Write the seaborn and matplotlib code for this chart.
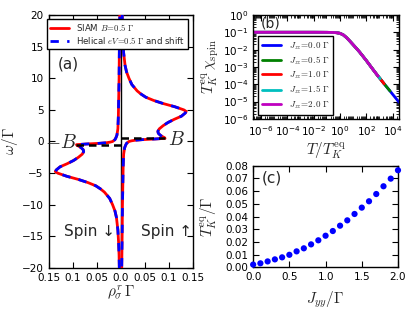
import numpy as np
import pandas as pd
import matplotlib
matplotlib.use("Agg")
import matplotlib.pyplot as plt
from matplotlib.ticker import FixedLocator, FuncFormatter, LogLocator, NullFormatter
import seaborn as sns

# Classic look: ticks inside on all four sides, cm math
sns.set_style("ticks")
plt.rcParams.update({
    "font.family": ["DejaVu Sans"],
    "mathtext.fontset": "cm",
    "xtick.direction": "in",
    "ytick.direction": "in",
    "xtick.top": True,
    "ytick.right": True,
    "xtick.labelsize": 7.5,
    "ytick.labelsize": 7.5,
    "xtick.major.size": 4,
    "ytick.major.size": 4,
    "xtick.minor.size": 2,
    "ytick.minor.size": 2,
    "xtick.color": "black",
    "ytick.color": "black",
    "axes.edgecolor": "black",
    "axes.linewidth": 1.0,
    "legend.fancybox": False,
    "legend.edgecolor": "black",
    "legend.framealpha": 1.0,
})

# ---- panel (a): spectral function, spin up (spin down is its mirror image)
omega_up = [20, 18, 16, 14, 12, 11, 10, 9, 8, 7.5, 7, 6.5, 6, 5.5, 5, 4.75, 4.5,
            4, 3.5, 3, 2.5, 2, 1.6, 1.3, 1.0, 0.8, 0.6, 0.5, 0.4, 0.3, 0.2, 0.1,
            0.0, -0.3, -0.6, -1, -2, -4, -6, -8, -10, -14, -17, -20]
rho_up = [0.003, 0.0035, 0.0045, 0.006, 0.009, 0.012, 0.017, 0.023, 0.034, 0.042,
          0.052, 0.068, 0.088, 0.112, 0.131, 0.136, 0.134, 0.126, 0.111, 0.098,
          0.088, 0.080, 0.077, 0.078, 0.082, 0.086, 0.091, 0.092, 0.072, 0.046,
          0.030, 0.022, 0.017, 0.012, 0.010, 0.008, 0.006, 0.005, 0.0045, 0.004,
          0.0035, 0.003, 0.0025, 0.002]
omega_dn = [-w for w in omega_up]
rho_dn = [-r for r in rho_up]   # spin down drawn to the left
B_field = 0.5
rho_at_B = 0.092

# ---- panel (b): spin susceptibility vs T/T_K
J_zz = ["0.0", "0.5", "1.0", "1.5", "2.0"]
logT_end = [4.5, 3.8, 3.35, 3.05, 2.9]
logT = [-7.0, -2.0, -1.0, -0.5, -0.25, 0.0, 0.25, 0.5, 0.75, 1.0, 1.25, 1.5,
        2.0, 2.5, 2.9, 3.05, 3.35, 3.5, 3.8, 4.0, 4.5]
logchi = [-1.0, -1.0, -1.003, -1.01, -1.025, -1.06, -1.15, -1.31, -1.51, -1.72,
          -1.93, -2.15, -2.63, -3.14, -3.54, -3.68, -3.97, -4.11, -4.39, -4.58, -5.05]
PAL_B = ["#0000ff", "#008000", "#ff0000", "#00bfbf", "#bf00bf"]

# ---- panel (c): Kondo temperature vs J_yy
J_yy = [0.0, 0.1, 0.2, 0.3, 0.4, 0.5, 0.6, 0.7, 0.8, 0.9, 1.0,
        1.1, 1.2, 1.3, 1.4, 1.5, 1.6, 1.7, 1.8, 1.9, 2.0]
T_K = [0.0022, 0.0032, 0.0047, 0.0063, 0.0079, 0.0099, 0.0126, 0.0150, 0.0181,
       0.0213, 0.0249, 0.0286, 0.0328, 0.0370, 0.0420, 0.0470, 0.0520, 0.0577,
       0.0638, 0.0698, 0.0764]

fig = plt.figure(figsize=(4.15, 3.12), dpi=100)
ax_a = fig.add_axes([0.117, 0.141, 0.348, 0.811])
ax_b = fig.add_axes([0.610, 0.619, 0.351, 0.333])
ax_c = fig.add_axes([0.610, 0.143, 0.349, 0.326])

# Panel (a)
ax_a.axvline(0, color="black", lw=1.0, zorder=1)
for w, r, lab in [(omega_up, rho_up, r"SIAM $B\!=\!0.5\ \Gamma$"), (omega_dn, rho_dn, None)]:
    sns.lineplot(x=r, y=w, sort=False, estimator=None, color="red", lw=2,
                 label=lab, ax=ax_a, zorder=3)
for w, r, lab in [(omega_up, rho_up, r"Helical $eV\!=\!0.5\ \Gamma$ and shift"),
                  (omega_dn, rho_dn, None)]:
    sns.lineplot(x=r, y=w, sort=False, estimator=None, color="blue", lw=2,
                 linestyle=(0, (3, 3)), label=lab, ax=ax_a, zorder=4)
ax_a.plot([0, rho_at_B], [B_field, B_field], color="black", lw=1.8,
          linestyle=(0, (3, 2)), zorder=5)
ax_a.plot([0, -rho_at_B], [-B_field, -B_field], color="black", lw=1.8,
          linestyle=(0, (3, 2)), zorder=5)
ax_a.text(0.098, 0.3, "$B$", fontsize=14, va="center", ha="left")
ax_a.text(-0.091, -0.2, "$-B$", fontsize=14, va="center", ha="right")
ax_a.text(-0.064, -14.2, "Spin ↓", fontsize=11, ha="center", va="center")
ax_a.text(0.096, -14.2, "Spin ↑", fontsize=11, ha="center", va="center")
ax_a.text(-0.13, 12.3, "(a)", fontsize=11, va="center")
ax_a.set_xlim(-0.15, 0.15)
ax_a.set_ylim(-20, 20)
xt = [-0.15, -0.1, -0.05, 0.0, 0.05, 0.1, 0.15]
ax_a.xaxis.set_major_locator(FixedLocator(xt))
ax_a.set_xticklabels(["0.15", "0.1", "0.05", "0.0", "0.05", "0.1", "0.15"])
ax_a.set_yticks(range(-20, 21, 5))
ax_a.set_xlabel(r"$\rho^r_\sigma\,\Gamma$", fontsize=11)
ax_a.set_ylabel(r"$\omega/\Gamma$", fontsize=11)
ax_a.xaxis.set_label_coords(0.5, -0.063)
ax_a.yaxis.set_label_coords(-0.2, 0.5)
ax_a.legend(loc="upper left", bbox_to_anchor=(-0.012, 0.985), borderaxespad=0,
            fontsize=6.2, handlelength=2.2, borderpad=0.35, labelspacing=0.3)

# Panel (b)
rows = []
for J, tend in zip(J_zz, logT_end):
    for lt, lc in zip(logT, logchi):
        if lt <= tend:
            rows.append({"T": 10 ** lt, "chi": 10 ** lc, "J": J})
df_b = pd.DataFrame(rows)
sns.lineplot(data=df_b, x="T", y="chi", hue="J", hue_order=J_zz, palette=PAL_B,
             lw=2, sort=True, estimator=None, ax=ax_b)
ax_b.set_xscale("log")
ax_b.set_yscale("log")
ax_b.set_xlim(10 ** -6.6, 10 ** 4.47)
ax_b.set_ylim(1e-6, 1)
ax_b.xaxis.set_major_locator(FixedLocator([1e-6, 1e-4, 1e-2, 1, 1e2, 1e4]))
ax_b.xaxis.set_minor_locator(LogLocator(base=10, subs=np.arange(2, 10), numticks=30))
ax_b.yaxis.set_major_locator(FixedLocator([10.0 ** k for k in range(-6, 1)]))
ax_b.yaxis.set_minor_locator(LogLocator(base=10, subs=np.arange(2, 10), numticks=30))
fmt = FuncFormatter(lambda v, pos: r"$\mathregular{10^{%d}}$" % int(round(np.log10(v))))
ax_b.xaxis.set_major_formatter(fmt)
ax_b.yaxis.set_major_formatter(fmt)
ax_b.xaxis.set_minor_formatter(NullFormatter())
ax_b.yaxis.set_minor_formatter(NullFormatter())
ax_b.set_xlabel(r"$T/T_K^{\rm eq}$", fontsize=11)
ax_b.set_ylabel(r"$T_K^{\rm eq}\,\chi_{\rm spin}$", fontsize=11)
ax_b.xaxis.set_label_coords(0.5, -0.2)
ax_b.yaxis.set_label_coords(-0.22, 0.5)
handles, _ = ax_b.get_legend_handles_labels()
ax_b.legend(handles, [r"$J_{zz}\!=\!%s\ \Gamma$" % j for j in J_zz], loc="lower left",
            bbox_to_anchor=(0.03, 0.04), borderaxespad=0, fontsize=6.5,
            handlelength=2.2, labelspacing=0.3, borderpad=0.45)
ax_b.text(0.05, 0.985, "(b)", transform=ax_b.transAxes, fontsize=10, va="top")

# Panel (c)
sns.scatterplot(x=J_yy, y=T_K, color="blue", edgecolor="none", s=20, ax=ax_c,
                zorder=3, clip_on=False)
ax_c.set_xlim(0, 2)
ax_c.set_ylim(0, 0.08)
ax_c.set_xticks([0.0, 0.5, 1.0, 1.5, 2.0])
ax_c.set_yticks(np.arange(0, 0.081, 0.01))
ax_c.xaxis.set_major_formatter(FuncFormatter(lambda v, pos: "%.1f" % v))
ax_c.yaxis.set_major_formatter(FuncFormatter(lambda v, pos: "%.2f" % v))
ax_c.set_xlabel(r"$J_{yy}/\Gamma$", fontsize=11)
ax_c.set_ylabel(r"$T_K^{\rm eq}/\Gamma$", fontsize=11)
ax_c.xaxis.set_label_coords(0.5, -0.22)
ax_c.yaxis.set_label_coords(-0.235, 0.5)
ax_c.text(0.06, 0.88, "(c)", transform=ax_c.transAxes, fontsize=11, va="center")

fig.savefig("out.png", dpi=100)
